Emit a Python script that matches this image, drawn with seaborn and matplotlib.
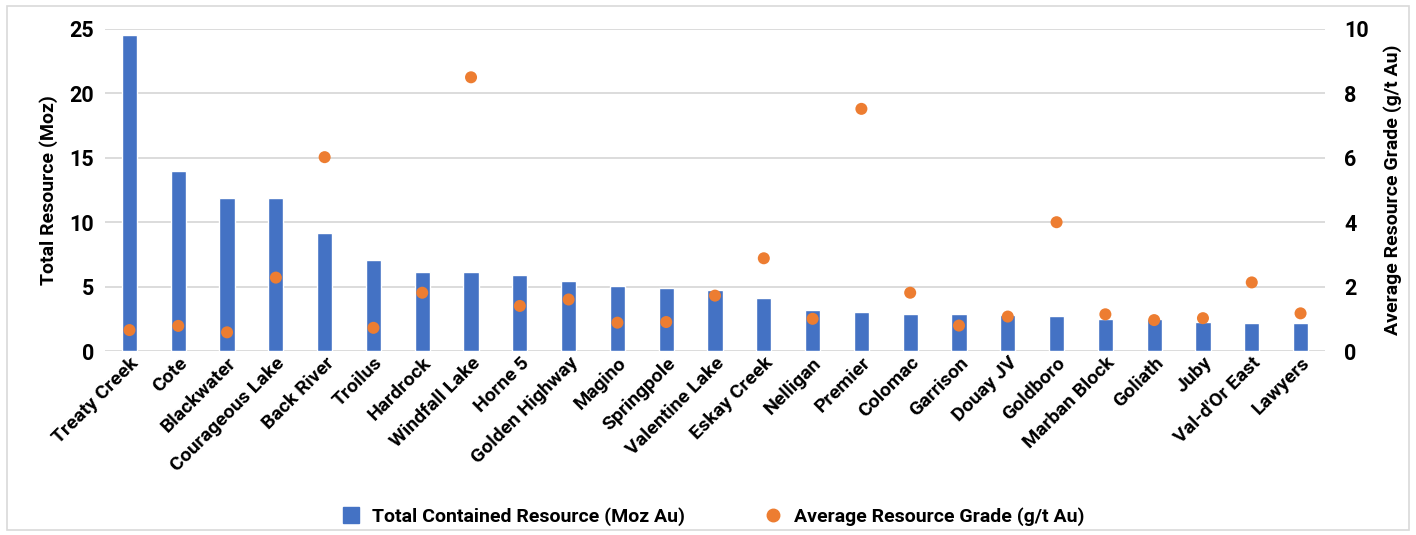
import pandas as pd
import matplotlib.pyplot as plt
import seaborn as sns
from matplotlib.lines import Line2D
from matplotlib.patches import Rectangle

# Data
projects = ['Treaty Creek', 'Cote', 'Blackwater', 'Courageous Lake', 'Back River',
            'Troilus', 'Hardrock', 'Windfall Lake', 'Horne 5', 'Golden Highway',
            'Magino', 'Springpole', 'Valentine Lake', 'Eskay Creek', 'Nelligan',
            'Premier', 'Colomac', 'Garrison', 'Douay JV', 'Goldboro',
            'Marban Block', 'Goliath', 'Juby', "Val-d'Or East", 'Lawyers']
resource_moz = [24.5, 14.0, 11.9, 11.9, 9.2,
                7.05, 6.1, 6.1, 5.9, 5.45,
                5.05, 4.9, 4.75, 4.1, 3.15,
                3.05, 2.9, 2.85, 2.8, 2.75,
                2.5, 2.45, 2.25, 2.2, 2.15]
grade_gt = [0.65, 0.78, 0.58, 2.28, 6.02,
            0.72, 1.81, 8.5, 1.40, 1.6,
            0.88, 0.9, 1.72, 2.88, 1.0,
            7.52, 1.81, 0.79, 1.07, 4.0,
            1.14, 0.96, 1.02, 2.13, 1.17]

df = pd.DataFrame({'Project': projects, 'Resource': resource_moz, 'Grade': grade_gt})

blue = '#4472C4'
orange = '#ED7D31'
grid_col = '#D9D9D9'

sns.set_theme(style='white')
plt.rcParams['font.family'] = ['Roboto', 'DejaVu Sans']
plt.rcParams['font.weight'] = 'bold'
plt.rcParams['text.color'] = 'black'
plt.rcParams['axes.labelcolor'] = 'black'
plt.rcParams['xtick.color'] = 'black'
plt.rcParams['ytick.color'] = 'black'

fig = plt.figure(figsize=(14.16, 5.35), dpi=100)
ax = fig.add_axes([0.0742, 0.3439, 0.8615, 0.6019])

sns.barplot(data=df, x='Project', y='Resource', color=blue, width=0.31,
            saturation=1, ax=ax, zorder=2)
ax.set_ylim(0, 25)
ax.set_yticks([0, 5, 10, 15, 20, 25])
ax.set_xlim(-0.5, len(projects) - 0.5)
ax.grid(axis='y', color=grid_col, linewidth=1.3, zorder=0)
ax.set_axisbelow(True)
ax.set_xlabel('')
ax.set_ylabel('Total Resource (Moz)', fontsize=14, fontweight='bold', labelpad=8)
ax.tick_params(axis='y', labelsize=15.5, length=0, pad=8)
ax.tick_params(axis='x', labelsize=14, length=0, pad=2)
plt.setp(ax.get_xticklabels(), rotation=45, ha='right', rotation_mode='anchor',
         fontweight='bold')
plt.setp(ax.get_yticklabels(), fontweight='bold')
for s in ax.spines.values():
    s.set_visible(False)

ax2 = ax.twinx()
sns.scatterplot(data=df, x='Project', y='Grade', color=orange, s=75,
                edgecolor='none', ax=ax2, zorder=3)
ax2.set_ylim(0, 10)
ax2.set_yticks([0, 2, 4, 6, 8, 10])
ax2.set_ylabel('Average Resource Grade (g/t Au)', fontsize=14, fontweight='bold',
               labelpad=10)
ax2.tick_params(axis='y', labelsize=15.5, length=0, pad=14)
plt.setp(ax2.get_yticklabels(), fontweight='bold')
ax2.grid(False)
for s in ax2.spines.values():
    s.set_visible(False)

handles = [
    Line2D([], [], marker='s', linestyle='none', color=blue, markersize=11,
           label='Total Contained Resource (Moz Au)'),
    Line2D([], [], marker='o', linestyle='none', color=orange, markersize=9,
           label='Average Resource Grade (g/t Au)'),
]
fig.legend(handles=handles, loc='center', bbox_to_anchor=(0.5, 0.035), ncol=2,
           frameon=False, handletextpad=0.1, columnspacing=3.5,
           prop={'family': ['Roboto', 'DejaVu Sans'], 'weight': 'bold', 'size': 14})

# chart-area border
fig.patches.append(Rectangle((0.005, 0.01), 0.99, 0.978, transform=fig.transFigure,
                             fill=False, edgecolor=grid_col, linewidth=1.2))

fig.savefig('out.png', dpi=100)
